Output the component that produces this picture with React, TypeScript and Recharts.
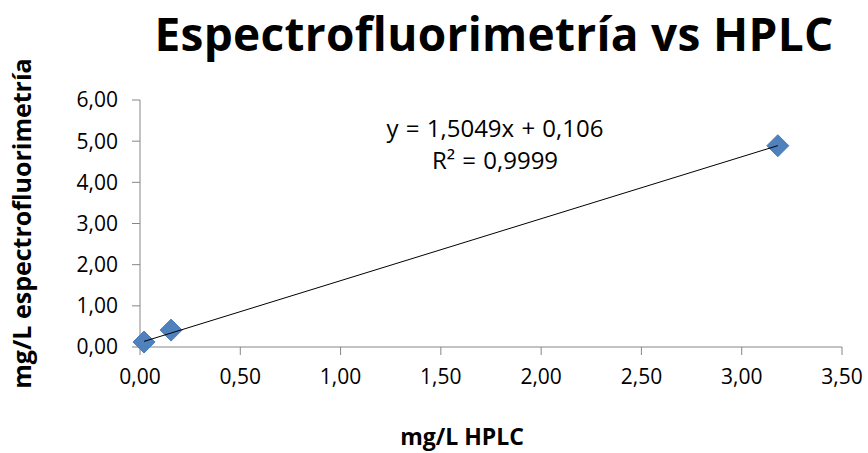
import React from "react"
import { ScatterChart, Scatter, XAxis, YAxis } from "recharts"

const hplc = [0.02, 0.155, 3.18]
const espectro = [0.12, 0.41, 4.89]
const xTicks = [0, 0.5, 1, 1.5, 2, 2.5, 3, 3.5]
const yTicks = [0, 1, 2, 3, 4, 5, 6]
const slope = 1.5049
const intercept = 0.106

const points = hplc.map((x, i) => ({ x, y: espectro[i] }))
const xMin = Math.min(...hplc)
const xMax = Math.max(...hplc)
const trend = [
  { x: xMin, y: slope * xMin + intercept },
  { x: xMax, y: slope * xMax + intercept },
]

const font = "'Open Sans', Lato, sans-serif"
const fmt = (v: number) => v.toFixed(2).replace(".", ",")

const Diamond = (props: any) => {
  const { cx, cy } = props
  const r = 11
  return (
    <polygon
      points={`${cx},${cy - r} ${cx + r},${cy} ${cx},${cy + r} ${cx - r},${cy}`}
      fill="#4F81BD"
      stroke="#4A7EBB"
      strokeWidth={1}
    />
  )
}

const Nothing = () => <g />

export default function App() {
  return (
    <div style={{ position: "absolute", left: 0, top: 0, width: 868, height: 453, background: "#fff", fontFamily: font }}>
      <div
        style={{
          position: "absolute",
          left: 140,
          width: 708,
          top: 2,
          textAlign: "center",
          fontSize: 46,
          fontWeight: 700,
          color: "#000",
          letterSpacing: 0.3,
          whiteSpace: "nowrap",
        }}
      >
        Espectrofluorimetría vs HPLC
      </div>
      <div
        style={{
          position: "absolute",
          left: 360,
          width: 270,
          top: 112,
          textAlign: "center",
          fontSize: 24,
          lineHeight: "32px",
          wordSpacing: 1,
          color: "#000",
        }}
      >
        y = 1,5049x + 0,106
        <br />
        R² = 0,9999
      </div>
      <ScatterChart width={868} height={453} margin={{ top: 100, right: 26, bottom: 0, left: 0 }}>
        <XAxis
          type="number"
          dataKey="x"
          domain={[0, 3.5]}
          ticks={xTicks}
          interval={0}
          tickFormatter={fmt}
          stroke="#868686"
          tickSize={8}
          tickMargin={14}
          tick={{ fill: "#000", fontSize: 21, fontFamily: font }}
          height={106}
          label={{ value: "mg/L HPLC", position: "insideBottom", offset: 8, dx: -29, fill: "#000", fontSize: 23, fontWeight: 700, fontFamily: font }}
        />
        <YAxis
          type="number"
          dataKey="y"
          domain={[0, 6]}
          ticks={yTicks}
          interval={0}
          tickFormatter={fmt}
          stroke="#868686"
          tickSize={8}
          tickMargin={14}
          width={140}
          tick={{ fill: "#000", fontSize: 21, fontFamily: font }}
          label={{ value: "mg/L espectrofluorimetría", angle: -90, position: "insideLeft", offset: 22, fill: "#000", fontSize: 25, fontWeight: 700, fontFamily: font, style: { textAnchor: "middle" } }}
        />
        <Scatter data={points} shape={<Diamond />} isAnimationActive={false} />
        <Scatter
          data={trend}
          shape={<Nothing />}
          line={{ stroke: "#000", strokeWidth: 1 }}
          isAnimationActive={false}
        />
      </ScatterChart>
    </div>
  )
}
